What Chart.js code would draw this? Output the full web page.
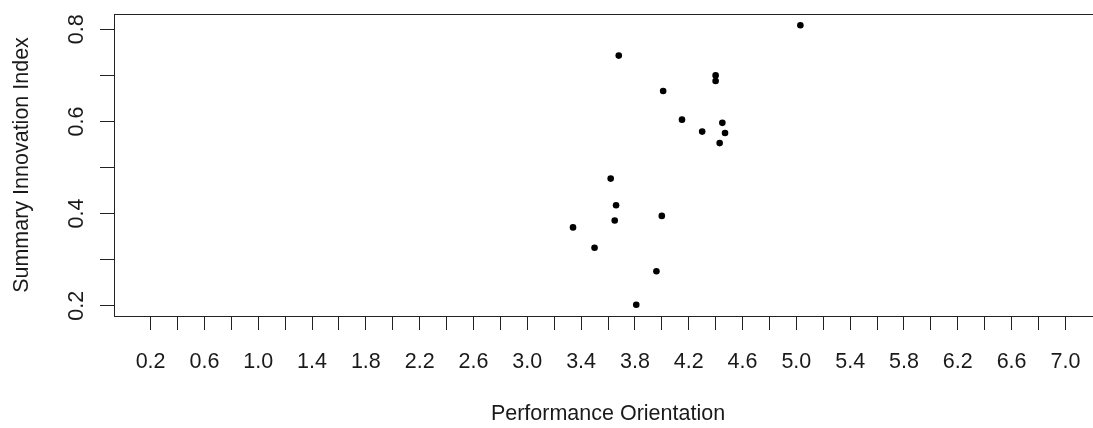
<!DOCTYPE html>
<html>
<head>
<meta charset="utf-8">
<script src="https://cdn.jsdelivr.net/npm/chart.js@4.4.1/dist/chart.umd.min.js"></script>
<style>
    html, body { margin: 0; padding: 0; background: #fff; overflow: hidden; }
    /* plot region runs a few px past the right edge of the window, like the reference */
    #wrap { width: 1102px; height: 428px; }
</style>
</head>
<body>
<div id="wrap"><canvas id="scatter" width="1102" height="428"></canvas></div>
<script>
// values
const performanceOrientation = [5.03, 3.68, 4.40, 4.40, 4.01, 4.15, 4.30, 4.45, 4.47, 4.43, 3.62, 3.66, 3.65, 4.00, 3.34, 3.50, 3.96, 3.81];
const innovationIndex = [0.809, 0.743, 0.700, 0.688, 0.666, 0.604, 0.578, 0.597, 0.575, 0.553, 0.476, 0.418, 0.385, 0.395, 0.370, 0.326, 0.275, 0.202];

const xTicks = [0.2, 0.4, 0.6, 0.8, 1.0, 1.2, 1.4, 1.6, 1.8, 2.0, 2.2, 2.4, 2.6, 2.8, 3.0, 3.2, 3.4, 3.6,
    3.8, 4.0, 4.2, 4.4, 4.6, 4.8, 5.0, 5.2, 5.4, 5.6, 5.8, 6.0, 6.2, 6.4, 6.6, 6.8, 7.0];
const xTickLabels = ['0.2', '', '0.6', '', '1.0', '', '1.4', '', '1.8', '', '2.2', '', '2.6', '', '3.0', '', '3.4', '',
    '3.8', '', '4.2', '', '4.6', '', '5.0', '', '5.4', '', '5.8', '', '6.2', '', '6.6', '', '7.0'];
const yTicks = [0.2, 0.3, 0.4, 0.5, 0.6, 0.7, 0.8];
const yTickLabels = ['0.2', '', '0.4', '', '0.6', '', '0.8'];

const xTitle = 'Performance Orientation';
const yTitle = 'Summary Innovation Index';

const ink = '#1a1a1a';

Chart.defaults.font.family = "'Liberation Sans', Arial, sans-serif";
Chart.defaults.font.size = 21.5;
Chart.defaults.color = ink;

// R style box around the plot region
const plotBox = {
    id: 'plotBox',
    beforeDatasetsDraw(chart) {
        const {ctx, chartArea: a} = chart;
        const l = Math.round(a.left) + 0.5;
        const t = Math.round(a.top) + 0.5;
        const b = Math.round(a.bottom) + 0.5;
        const r = Math.round(a.right) - 0.5;
        ctx.save();
        ctx.strokeStyle = '#222';
        ctx.lineWidth = 1;
        ctx.strokeRect(l, t, r - l, b - t);
        ctx.restore();
    }
};

const tickGrid = {
    display: true,
    drawOnChartArea: false,
    drawTicks: true,
    tickLength: 14,
    tickColor: '#222',
    tickWidth: 1
};

const ctx = document.getElementById('scatter').getContext('2d');

const config = {
    type: 'scatter',
    data: {
        datasets: [{
            data: performanceOrientation.map((x, i) => ({x: x, y: innovationIndex[i]})),
            backgroundColor: '#000',
            borderWidth: 0,
            pointRadius: 3.3,
            pointHoverRadius: 3.3
        }]
    },
    options: {
        responsive: false,
        animation: false,
        layout: {
            autoPadding: false,
            padding: {top: 14, left: 0, right: 0, bottom: 0}
        },
        scales: {
            x: {
                type: 'linear',
                position: 'bottom',
                min: -0.072,
                max: 7.272,
                afterBuildTicks: (scale) => { scale.ticks = xTicks.map(v => ({value: v})); },
                afterFit: (scale) => {
                    scale.height = 112;
                    scale.paddingLeft = 0;
                    scale.paddingRight = 0;
                },
                grid: tickGrid,
                border: {display: false},
                ticks: {
                    autoSkip: false,
                    minRotation: 0,
                    maxRotation: 0,
                    padding: 19,
                    color: ink,
                    callback: (value, index) => xTickLabels[index]
                },
                title: {
                    display: true,
                    text: xTitle,
                    color: ink,
                    padding: {top: 0, bottom: 1}
                }
            },
            y: {
                type: 'linear',
                min: 0.1777,
                max: 0.8333,
                afterBuildTicks: (scale) => { scale.ticks = yTicks.map(v => ({value: v})); },
                afterFit: (scale) => {
                    scale.width = 114;
                    scale.paddingTop = 0;
                    scale.paddingBottom = 0;
                },
                grid: tickGrid,
                border: {display: false},
                ticks: {
                    autoSkip: false,
                    minRotation: 90,
                    maxRotation: 90,
                    crossAlign: 'center',
                    padding: 8,
                    color: ink,
                    callback: (value, index) => yTickLabels[index]
                },
                title: {
                    display: true,
                    text: yTitle,
                    color: ink,
                    padding: {top: 9, bottom: 0}
                }
            }
        },
        plugins: {
            legend: {display: false},
            tooltip: {enabled: false}
        }
    },
    plugins: [plotBox]
};

new Chart(ctx, config);
</script>
</body>
</html>
